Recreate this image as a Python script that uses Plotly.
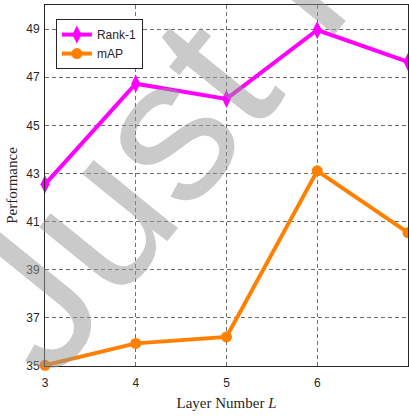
import plotly.graph_objects as go

layers = [3, 4, 5, 6, 7]
rank1 = [42.55, 46.73, 46.1, 48.96, 47.64]
mAP = [35.03, 35.94, 36.21, 43.11, 40.54]
y_ticks = [35, 37, 39, 41, 43, 45, 47, 49]

fig = go.Figure()
fig.add_trace(go.Scatter(
    x=layers, y=rank1, name="Rank-1", mode="lines+markers",
    line=dict(color="#ff00ff", width=4),
    marker=dict(symbol="diamond-tall", size=13, color="#ff00ff"),
    cliponaxis=False,
))
fig.add_trace(go.Scatter(
    x=layers, y=mAP, name="mAP", mode="lines+markers",
    line=dict(color="#ff8000", width=4),
    marker=dict(symbol="circle", size=11, color="#ff8000"),
    cliponaxis=False,
))

axis_common = dict(
    showline=True, linecolor="#262626", linewidth=1, mirror=True,
    showgrid=True, gridcolor="#6e6e6e", griddash="4px,3px", gridwidth=1,
    zeroline=False, ticks="", tickfont=dict(family="Liberation Sans, Arial", size=12, color="#262626"),
)

fig.update_xaxes(
    range=[3, 7], tickvals=layers, ticklabelstandoff=6,
    title=dict(text="Layer Number <i>L</i>", font=dict(family="Liberation Serif, Times New Roman", size=15, color="#262626"), standoff=8),
    **axis_common,
)
fig.update_yaxes(
    range=[35, 50], tickvals=y_ticks, ticklabelstandoff=2,
    title=dict(text="Performance", font=dict(family="Liberation Serif, Times New Roman", size=15, color="#262626"), standoff=4),
    **axis_common,
)

# diagonal watermark across the plot
fig.add_annotation(
    text="Just for review", xref="paper", yref="paper",
    x=1.0085, y=1.494, xanchor="center", yanchor="middle",
    textangle=-51, showarrow=False,
    font=dict(family="Liberation Sans, Arial", size=205, color="rgba(150,150,150,0.5)"),
)

fig.update_layout(
    width=409, height=416,
    margin=dict(l=45, r=1, t=5, b=50),
    plot_bgcolor="white", paper_bgcolor="white",
    legend=dict(
        x=0.03, y=0.961, xanchor="left", yanchor="top",
        bgcolor="white", bordercolor="#262626", borderwidth=1,
        font=dict(family="Liberation Sans, Arial", size=12, color="#262626"),
        itemwidth=30, tracegroupgap=0,
    ),
)

fig.write_html("out.html")
